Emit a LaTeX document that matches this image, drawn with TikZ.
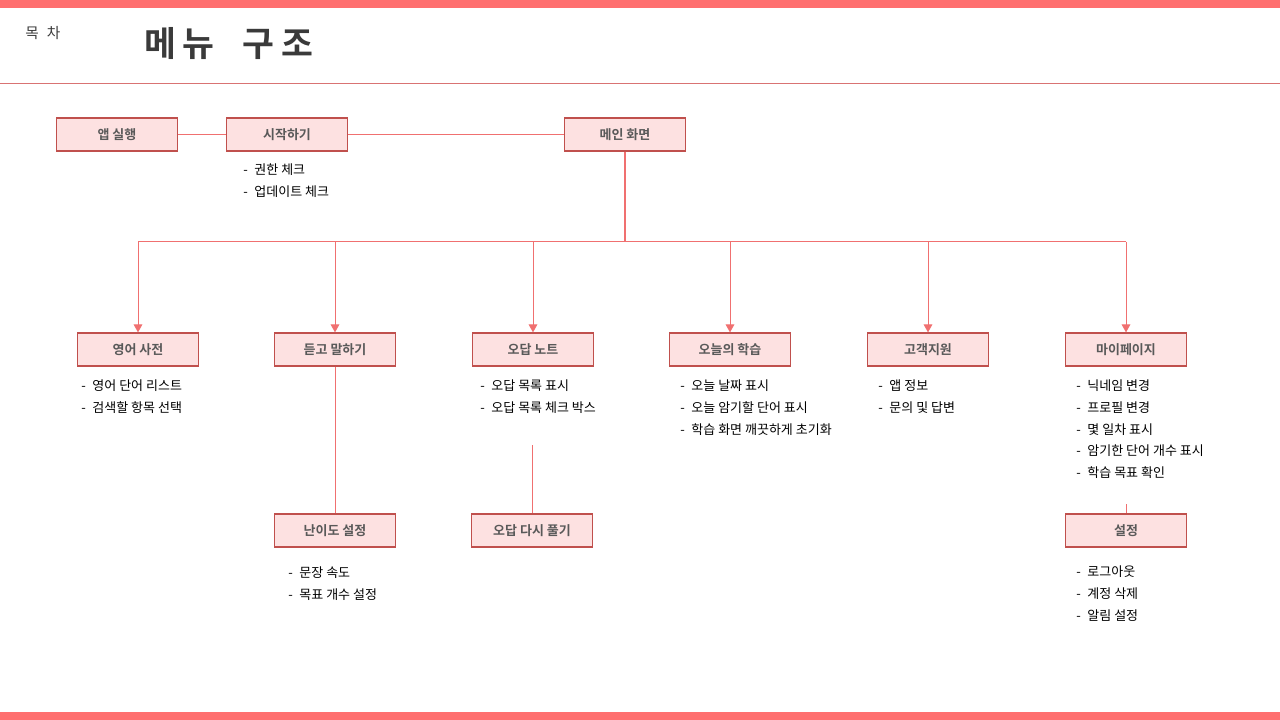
\documentclass[tikz,border=0pt]{standalone}
\usepackage{fontspec}
\setmainfont{Noto Sans CJK KR}[BoldFont={Noto Sans CJK KR Bold}]
\usetikzlibrary{arrows.meta}
\definecolor{barred}{HTML}{FF6F6F}
\definecolor{boxfill}{HTML}{FDE1E1}
\definecolor{boxline}{HTML}{C0504D}
\definecolor{connred}{HTML}{F07070}
\definecolor{boxtext}{HTML}{595959}
\definecolor{titletext}{HTML}{3A3A3A}
\tikzset{
  menubox/.style={draw=boxline, line width=0.9pt, fill=boxfill, minimum width=90.75pt, minimum height=24.75pt, inner sep=0pt, text=boxtext, font=\fontsize{9.75}{11}\selectfont\bfseries},
  conn/.style={draw=connred, line width=0.75pt},
  arr/.style={conn, -{Triangle[width=6.5pt,length=6pt]}},
  item/.style={anchor=west, inner sep=0pt, font=\fontsize{9.75}{11}\selectfont, text=black},
}
\newcommand{\itemlist}[4]{% name, x, y, list
  \foreach \t [count=\i from 0] in {#4} {
    \node[item] (#1-\i) at (#2, #3+21.7*\i) {-\hspace{5pt}\t};
  }
}
\begin{document}
\begin{tikzpicture}[x=0.75pt,y=-0.75pt]
\useasboundingbox (0,0) rectangle (1280,720);
\fill[barred] (0,0) rectangle (1280,8);
\fill[barred] (0,712) rectangle (1280,720);
\draw[draw=connred!80!gray, line width=0.6pt] (0,83) -- (1280,83);

\node[anchor=west, inner sep=0pt, text=titletext, font=\fontsize{11}{13}\selectfont] (toc) at (25,33) {목\hspace{6pt}차};
\node[anchor=west, inner sep=0pt, text=titletext, font=\fontsize{26}{30}\selectfont\bfseries] (title) at (144,44) {메\hspace{5pt}뉴\hspace{21pt}구\hspace{5pt}조};

% row 1
\node[menubox] (app) at (117,134.5) {앱 실행};
\node[menubox] (start) at (287,134.5) {시작하기};
\node[menubox] (main) at (625,134.5) {메인 화면};
% row 2
\node[menubox] (dict) at (138,349.5) {영어 사전};
\node[menubox] (listen) at (335,349.5) {듣고 말하기};
\node[menubox] (wrong) at (533,349.5) {오답 노트};
\node[menubox] (today) at (730,349.5) {오늘의 학습};
\node[menubox] (support) at (928,349.5) {고객지원};
\node[menubox] (mypage) at (1126,349.5) {마이페이지};
% row 3
\node[menubox] (level) at (335,530.5) {난이도 설정};
\node[menubox] (retry) at (532,530.5) {오답 다시 풀기};
\node[menubox] (settings) at (1126,530.5) {설정};

% connectors
\draw[conn] (app) -- (start);
\draw[conn] (start) -- (main);
\coordinate (hub) at (625,242);
\draw[conn, line width=1.1pt] (main.south) -- (hub);
\draw[conn] (dict.north |- hub) -- (mypage.north |- hub);
\foreach \n in {dict,listen,wrong,today,support,mypage}{
  \draw[arr] (\n.north |- hub) -- (\n.north);
}
\draw[conn] (listen.south) -- (level.north);
\coordinate (w1) at (532,445);
\draw[conn] (w1) -- (retry.north);
\coordinate (s1) at (1126,504);
\draw[conn] (s1) -- (settings.north);

% lists
\itemlist{ls}{243}{170}{권한 체크,업데이트 체크}
\itemlist{ld}{81}{386}{영어 단어 리스트,검색할 항목 선택}
\itemlist{lw}{480}{386}{오답 목록 표시,오답 목록 체크 박스}
\itemlist{lt}{680}{386}{오늘 날짜 표시,오늘 암기할 단어 표시,학습 화면 깨끗하게 초기화}
\itemlist{lc}{878}{386}{앱 정보,문의 및 답변}
\itemlist{lm}{1076}{386}{닉네임 변경,프로필 변경,몇 일차 표시,암기한 단어 개수 표시,학습 목표 확인}
\itemlist{ll}{288}{573}{문장 속도,목표 개수 설정}
\itemlist{lx}{1076}{572}{로그아웃,계정 삭제,알림 설정}
\end{tikzpicture}
\end{document}
